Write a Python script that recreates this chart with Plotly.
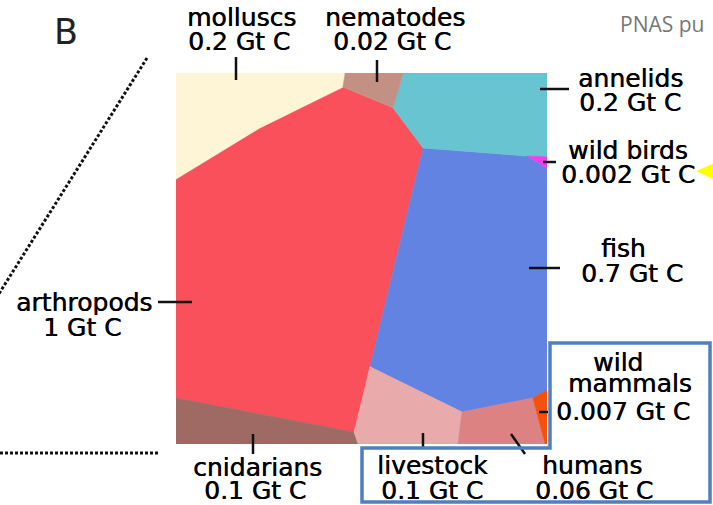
import plotly.graph_objects as go

# ---------------- data ----------------
taxa = ["arthropods", "fish", "molluscs", "annelids", "cnidarians",
        "livestock", "humans", "nematodes", "wild mammals", "wild birds"]
biomass_gtc = [1, 0.7, 0.2, 0.2, 0.1, 0.1, 0.06, 0.02, 0.007, 0.002]
biomass_text = ["1", "0.7", "0.2", "0.2", "0.1", "0.1", "0.06", "0.02", "0.007", "0.002"]

vertex_x = [0.000, 0.456, 0.450, 0.226, 0.000, 0.612, 0.585, 1.000, 0.666, 0.946,
            1.000, 1.000, 1.000, 0.962, 0.771, 0.523, 0.480, 0.491, 0.760, 0.995,
            1.000, 0.000, 0.000]
vertex_y = [0.000, 0.000, 0.038, 0.148, 0.286, 0.000, 0.094, 0.000, 0.202, 0.224,
            0.226, 0.256, 0.855, 0.876, 0.914, 0.792, 0.968, 1.000, 1.000, 1.000,
            1.000, 1.000, 0.876]
# cell -> vertex indices (same order as taxa)
cells = [
    [4, 3, 2, 6, 8, 15, 16, 22],      # arthropods
    [8, 9, 11, 12, 13, 14, 15],       # fish
    [0, 1, 2, 3, 4],                  # molluscs
    [5, 7, 10, 9, 8, 6],              # annelids
    [22, 16, 17, 21],                 # cnidarians
    [15, 14, 18, 17, 16],             # livestock
    [14, 13, 19, 18],                 # humans
    [1, 5, 6, 2],                     # nematodes
    [13, 12, 20, 19],                 # wild mammals
    [9, 10, 11],                      # wild birds
]

# ---------------- styles ----------------
colors = ["#F9505B", "#6383E3", "#FDF5D6", "#67C4D0", "#9E6A63",
          "#E8AAAA", "#DD8282", "#C29184", "#F4520C", "#F040EC"]

W, H = 713, 505
L, R, T, B = 176, 547, 73, 444
PW, PH = R - L, B - T


def px(x):
    return (x - L) / PW


def py(y):
    return (B - y) / PH


fig = go.Figure()
for name, val, vt, cell, col in zip(taxa, biomass_gtc, biomass_text, cells, colors):
    xs = [vertex_x[i] for i in cell] + [vertex_x[cell[0]]]
    ys = [vertex_y[i] for i in cell] + [vertex_y[cell[0]]]
    fig.add_trace(go.Scatter(
        x=xs, y=ys, mode="lines", fill="toself", fillcolor=col,
        line=dict(width=0.6, color=col), name=name,
        hovertemplate=f"{name}<br>{vt} Gt C<extra></extra>", showlegend=False))

# label placement (pixel centres of the two text lines, tick segment)
label_pos = {
    "molluscs":     dict(x1=241, y1=18, x2=239, y2=41, tick=(236, 57, 236, 80)),
    "nematodes":    dict(x1=395, y1=18, x2=392, y2=41, tick=(377, 60, 377, 82)),
    "annelids":     dict(x1=630, y1=79, x2=630, y2=103, tick=(540, 89, 569, 89)),
    "wild birds":   dict(x1=628, y1=150, x2=628, y2=174, tick=(543, 162, 556, 162)),
    "fish":         dict(x1=623, y1=248, x2=632, y2=273, tick=(529, 268, 560, 268)),
    "arthropods":   dict(x1=84, y1=302, x2=82, y2=327, tick=(158, 302, 192, 302)),
    "cnidarians":   dict(x1=257, y1=467, x2=255, y2=491, tick=(253, 434, 253, 454)),
    "livestock":    dict(x1=432, y1=465, x2=432, y2=490, tick=(423, 433, 423, 447)),
    "humans":       dict(x1=592, y1=465, x2=594, y2=490, tick=(511, 434, 525, 454)),
    "wild mammals": dict(x1=624, y1=371, x2=623, y2=411, tick=(539, 412, 548, 412)),
}

font = dict(family="DejaVu Sans", size=25, color="#000000",
            shadow="0.5px 0px 0px #000000")
ann = []
shapes = []
for name, vt in zip(taxa, biomass_text):
    p = label_pos[name]
    if name == "wild mammals":
        ann.append(dict(x=px(618), y=py(362), text="wild", height=21))
        ann.append(dict(x=px(630), y=py(383), text="mammals", height=21))
    else:
        h1 = 26 if name == "arthropods" else 23
        ann.append(dict(x=px(p["x1"]), y=py(p["y1"]), text=name, height=h1))
    h2 = 22 if name == "arthropods" else 23
    ann.append(dict(x=px(p["x2"]), y=py(p["y2"]), text=f"{vt} Gt C", height=h2))
    x0, y0, x1, y1 = p["tick"]
    shapes.append(dict(type="line", xref="paper", yref="paper",
                       x0=px(x0), y0=py(y0), x1=px(x1), y1=py(y1),
                       line=dict(color="#111111", width=2.5)))

for a in ann:
    a.update(xref="paper", yref="paper", showarrow=False, xanchor="center",
             yanchor="middle", valign="middle", font=font)

# panel letter and cut-off header
ann.append(dict(x=px(66), y=py(32), xref="paper", yref="paper", text="B",
                showarrow=False, xanchor="center", yanchor="middle",
                font=dict(family="DejaVu Sans", size=35, color="#222222")))
ann.append(dict(x=px(618), y=py(24), xref="paper", yref="paper", text="PNAS pu",
                showarrow=False, xanchor="left", yanchor="middle",
                font=dict(family="Open Sans", size=21, color="#777777")))

# zoom guide lines (dashed)
shapes.append(dict(type="line", xref="paper", yref="paper",
                   x0=px(147), y0=py(58), x1=px(-5), y1=py(300),
                   line=dict(color="#111111", width=3, dash="3px,2px")))
shapes.append(dict(type="line", xref="paper", yref="paper",
                   x0=px(0), y0=py(453), x1=px(158), y1=py(453),
                   line=dict(color="#111111", width=3, dash="3px,2px")))

# blue highlight outline
pts = [(550, 343), (710, 343), (710, 502), (362, 502), (362, 448), (550, 448)]
path = "M " + " L ".join(f"{px(a)},{py(b)}" for a, b in pts) + " Z"
shapes.append(dict(type="path", xref="paper", yref="paper", path=path,
                   line=dict(color="#4F7FBE", width=3.5)))

# yellow pointer
tri = [(696, 171), (715, 163), (715, 180)]
path = "M " + " L ".join(f"{px(a)},{py(b)}" for a, b in tri) + " Z"
shapes.append(dict(type="path", xref="paper", yref="paper", path=path,
                   fillcolor="#FFFF00", line=dict(color="#FFFF00", width=0)))

fig.update_layout(
    width=W, height=H,
    margin=dict(l=L, r=W - R, t=T, b=H - B, pad=0),
    paper_bgcolor="white", plot_bgcolor="white",
    xaxis=dict(range=[0, 1], visible=False, fixedrange=True),
    yaxis=dict(range=[1, 0], visible=False, fixedrange=True),
    annotations=ann, shapes=shapes,
    showlegend=False,
)

fig.write_html("out.html", config={"displayModeBar": False},
               post_script="document.body.style.margin='0';"
                           "document.body.style.overflow='hidden';")
